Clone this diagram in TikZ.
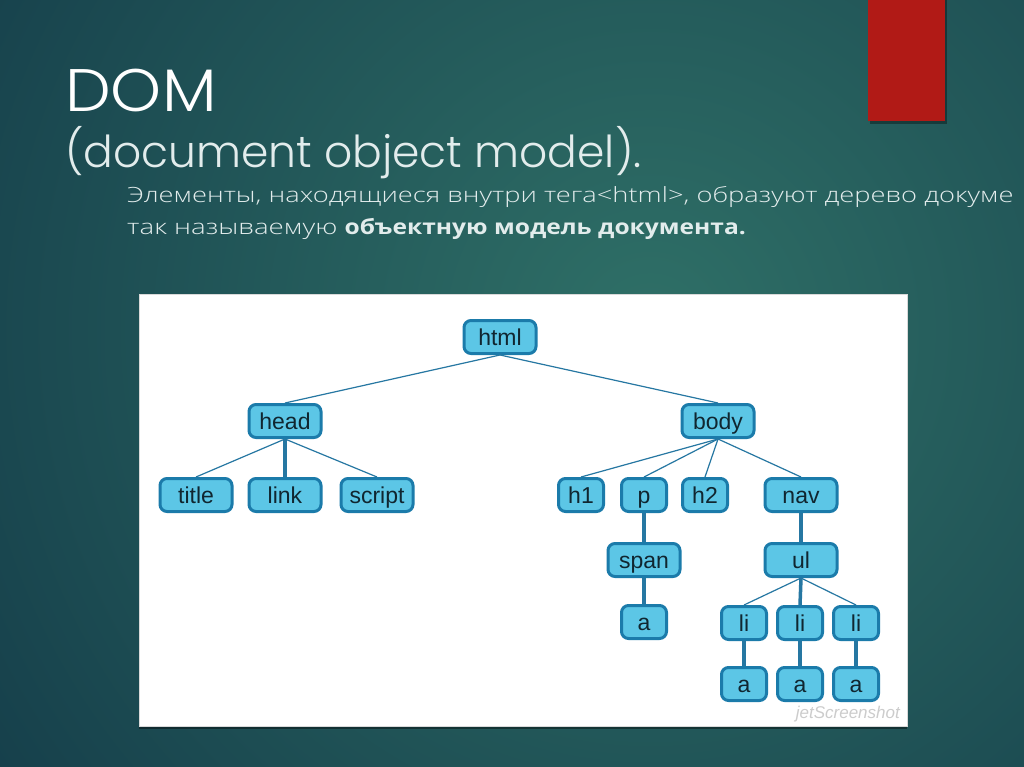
\documentclass[tikz,border=0pt]{standalone}
\usepackage{fontspec}
\setmainfont{Liberation Sans}
\newfontfamily\titlefont{Poppins Light}
\newfontfamily\rulight{Open Sans Light}
\newfontfamily\rubold{Open Sans}
\definecolor{bgout}{HTML}{133A48}
\definecolor{bgin}{HTML}{2F7067}
\definecolor{redbar}{HTML}{B11A16}
\definecolor{nodefill}{HTML}{5CC6E6}
\definecolor{nodeline}{HTML}{1B7BAA}
\definecolor{edgecol}{HTML}{2677A2}
\definecolor{nodetext}{HTML}{102630}
\definecolor{subtext}{HTML}{E2ECEC}
\newcommand{\wreg}[1]{\scalebox{1.32}[1]{#1}}
\newcommand{\wbold}[1]{\scalebox{1.17}[1]{{\rubold\bfseries #1}}}
\tikzset{
  nd/.style={draw=nodeline, fill=nodefill, line width=3pt, rounded corners=7pt,
    minimum height=33pt, inner sep=0pt, text=nodetext,
    font=\fontsize{23}{23}\selectfont, text height=17pt, text depth=0pt},
  wide/.style={nd, minimum width=72pt},
  narrow/.style={nd, minimum width=45pt},
  thinedge/.style={draw=edgecol, line width=1.2pt},
  thickedge/.style={draw=edgecol, line width=3.5pt},
  txt/.style={anchor=base west, inner sep=0pt}
}
\begin{document}
\begin{tikzpicture}[x=1pt,y=-1pt]
\useasboundingbox (0,0) rectangle (1024,767);
\fill[bgout] (0,0) rectangle (1024,767);
\begin{scope}
  \clip (0,0) rectangle (1024,767);
  \shade[inner color=bgin, outer color=bgout] (650,330) circle (880pt);
\end{scope}
% red bar
\fill[black, opacity=0.35] (870,0) rectangle (947,124);
\fill[redbar] (868,0) rectangle (945,121);
% titles
\node[txt, text=white, font=\titlefont\fontsize{60}{60}\selectfont] (t1) at (65,112) {\scalebox{1.08}[1]{DOM}};
\node[txt, text=subtext, font=\titlefont\fontsize{44}{44}\selectfont] (t2) at (65,168) {(document object model).};
\node[txt, text=subtext, font=\rulight\fontsize{21}{21}\selectfont] (t3) at (127,203) {\scalebox{1.3}[1]{Элементы, находящиеся внутри тега<html>, образуют дерево докуме}};
\node[txt, text=subtext, font=\rulight\fontsize{21}{21}\selectfont] (t4) at (127,235) {\wreg{так называемую }\wbold{объектную модель документа.}};
% panel
\fill[black, opacity=0.4] (139,726) rectangle (907,729);
\draw[fill=white, draw=gray!30, line width=0.6pt] (139,294) rectangle (907,726);
\node[anchor=base east, inner sep=0pt, text=gray!40, font=\itshape\fontsize{17}{17}\selectfont] (wm) at (900,718) {jetScreenshot};
% nodes
\node[wide] (html) at (500,337) {html};
\node[wide] (head) at (285,421) {head};
\node[wide] (body) at (718,421) {body};
\node[wide] (title) at (196,495) {title};
\node[wide] (link) at (285,495) {link};
\node[wide] (script) at (377,495) {script};
\node[narrow] (h1) at (581,495) {h1};
\node[narrow] (p) at (644,495) {p};
\node[narrow] (h2) at (705,495) {h2};
\node[wide] (nav) at (801,495) {nav};
\node[wide] (span) at (644,560) {span};
\node[wide] (ul) at (801,560) {ul};
\node[narrow] (a0) at (644,622) {a};
\node[narrow] (li1) at (744,623) {li};
\node[narrow] (li2) at (800,623) {li};
\node[narrow] (li3) at (856,623) {li};
\node[narrow] (a1) at (744,684) {a};
\node[narrow] (a2) at (800,684) {a};
\node[narrow] (a3) at (856,684) {a};
% edges
\draw[thinedge] (html.south) -- (head.north);
\draw[thinedge] (html.south) -- (body.north);
\draw[thinedge] (head.south) -- (title.north);
\draw[thickedge] (head.south) -- (link.north);
\draw[thinedge] (head.south) -- (script.north);
\draw[thinedge] (body.south) -- (h1.north);
\draw[thinedge] (body.south) -- (p.north);
\draw[thinedge] (body.south) -- (h2.north);
\draw[thinedge] (body.south) -- (nav.north);
\draw[thickedge] (p.south) -- (span.north);
\draw[thickedge] (span.south) -- (a0.north);
\draw[thickedge] (nav.south) -- (ul.north);
\draw[thinedge] (ul.south) -- (li1.north);
\draw[thickedge] (ul.south) -- (li2.north);
\draw[thinedge] (ul.south) -- (li3.north);
\draw[thickedge] (li1.south) -- (a1.north);
\draw[thickedge] (li2.south) -- (a2.north);
\draw[thickedge] (li3.south) -- (a3.north);
\end{tikzpicture}
\end{document}
